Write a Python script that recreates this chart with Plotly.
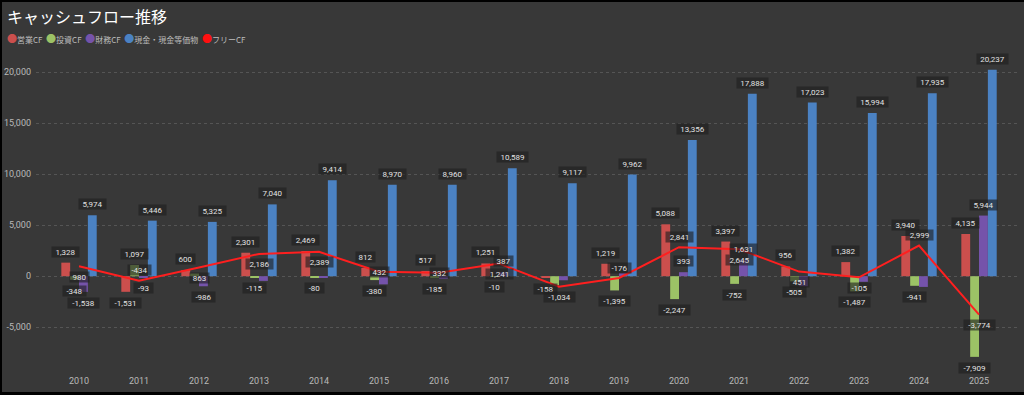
import plotly.graph_objects as go

# ---------------- data ----------------
years = list(range(2010, 2026))
operating_cf = [1328, -1531, 600, 2301, 2469, 812, 517, 1251, -158, 1219, 5088, 3397, 956, 1382, 3940, 4135]
investing_cf = [-348, 1097, 263, -115, -80, -380, -185, -10, -876, -1395, -2247, -752, -505, -1487, -941, -7909]
financing_cf = [-1538, -93, -986, -460, -100, -800, -260, 387, -400, 300, 393, 1631, -980, -550, -1050, 5944]
cash_eq = [5974, 5446, 5325, 7040, 9414, 8970, 8960, 10589, 9117, 9962, 13356, 17888, 17023, 15994, 17935, 20237]
free_cf = [980, -434, 863, 2186, 2389, 432, 332, 1241, -1034, -176, 2841, 2645, 451, -105, 2999, -3774]

series_names = ["営業CF", "投資CF", "財務CF", "現金・現金等価物"]
line_name = "フリーCF"
y_ticks = [-5000, 0, 5000, 10000, 15000, 20000]

# ---------------- style ----------------
colors = ["#CB4F4D", "#9CC266", "#7553AA", "#4B82C3"]
line_color = "#FF1F1F"
bg = "#383838"
label_bg = "rgba(30,30,30,0.62)"
label_color = "#E2E2E2"
# which data labels the original shows (overlapping ones are hidden)
show_labels = [
    [1] * 16,
    [1, 1, 0, 1, 1, 1, 1, 1, 0, 1, 1, 1, 1, 1, 1, 1],
    [1, 1, 1, 0, 0, 0, 0, 1, 0, 0, 1, 1, 0, 0, 0, 1],
    [1] * 16,
]
free_label_pos = [-1, 1, -1, -1, -1, 0, 0, -1, -1, 1, 1, -1, -1, -1, 1, -1]

W, H = 1024, 395
ML, MR, MT, MB = 36, 4, 62, 27
PW, PH = W - ML - MR, H - MT - MB
bargap = 0.41
bar_w = (1 - bargap) / 4


def px_x(p):
    return (p - ML) / PW


def px_y(p):
    return (H - MB - p) / PH


def fmt(v):
    return f"{v:,}"


fig = go.Figure()
series = [operating_cf, investing_cf, financing_cf, cash_eq]
for name, vals, col in zip(series_names, series, colors):
    fig.add_trace(go.Bar(x=years, y=vals, name=name, marker=dict(color=col, line=dict(width=0)),
                         showlegend=False, hoverinfo="skip"))

fig.add_trace(go.Scatter(x=years, y=free_cf, name=line_name, mode="lines",
                         line=dict(color=line_color, width=2), showlegend=False, hoverinfo="skip"))

annotations = []


def add_label(x, y, text, yshift):
    annotations.append(dict(
        x=x, y=y, xref="x", yref="y", text=text, showarrow=False, yshift=yshift,
        font=dict(size=8, color=label_color, family="Roboto"),
        bgcolor=label_bg, borderpad=0, width=len(text) * 4.0 + 7, height=10,
        xanchor="center", yanchor="middle"))


for k, vals in enumerate(series):
    off = (k - 1.5) * bar_w
    for i, (yr, v) in enumerate(zip(years, vals)):
        if show_labels[k][i]:
            add_label(yr + off, v, fmt(v), 11 if v >= 0 else -11)

for yr, v, p in zip(years, free_cf, free_label_pos):
    add_label(yr, v, fmt(v), 10.5 * p)

# title
annotations.append(dict(
    x=px_x(5), y=px_y(16), xref="paper", yref="paper", xanchor="left", yanchor="middle",
    text="キャッシュフロー推移", showarrow=False,
    font=dict(size=16, color="#FFFFFF", family="Noto Sans CJK JP")))

# legend (drawn as text with coloured dots)
leg_parts = []
for name, col in zip(series_names + [line_name], colors + ["#FF1010"]):
    leg_parts.append(f"<span style='color:{col};font-size:10px'>●</span>{name}")
annotations.append(dict(
    x=px_x(5), y=px_y(38), xref="paper", yref="paper", xanchor="left", yanchor="middle",
    text="  ".join(leg_parts), showarrow=False,
    font=dict(size=8, color="#BDBDBD", family="Noto Sans CJK JP")))

# black frame strips
shapes = [
    dict(type="rect", xref="paper", yref="paper", x0=px_x(0), x1=px_x(W), y0=px_y(392), y1=px_y(H),
         fillcolor="#000000", line=dict(width=0), layer="above"),
    dict(type="rect", xref="paper", yref="paper", x0=px_x(0), x1=px_x(2), y0=px_y(0), y1=px_y(H),
         fillcolor="#000000", line=dict(width=0), layer="above"),
    dict(type="rect", xref="paper", yref="paper", x0=px_x(0), x1=px_x(W), y0=px_y(0), y1=px_y(2),
         fillcolor="#000000", line=dict(width=0), layer="above"),
]

fig.update_layout(
    width=W, height=H,
    margin=dict(l=ML, r=MR, t=MT, b=MB, pad=0),
    paper_bgcolor=bg, plot_bgcolor=bg,
    barmode="group", bargap=bargap, bargroupgap=0,
    annotations=annotations, shapes=shapes,
    font=dict(family="Roboto", color="#B5B5B5"),
    showlegend=False,
    xaxis=dict(range=[2010 - 0.717, 2010 + 15.683], tickmode="array", tickvals=years,
               ticktext=[str(y) for y in years], showgrid=False, zeroline=False, showline=False,
               tickfont=dict(size=9, color="#B8B8B8"), ticks="", ticklabelstandoff=6),
    yaxis=dict(range=[-9000, 21000], tickmode="array", tickvals=y_ticks,
               ticktext=[fmt(v) for v in y_ticks], showgrid=True, gridcolor="#555555",
               griddash="dot", gridwidth=1, zeroline=False, showline=False,
               tickfont=dict(size=9, color="#B8B8B8"), ticks="", ticklabelstandoff=4),
)

fig.write_html(
    "out.html",
    config={"displayModeBar": False},
    post_script="document.body.style.margin='0';document.body.style.padding='0';"
                "document.body.style.overflow='hidden';document.body.style.background='#000';",
)
